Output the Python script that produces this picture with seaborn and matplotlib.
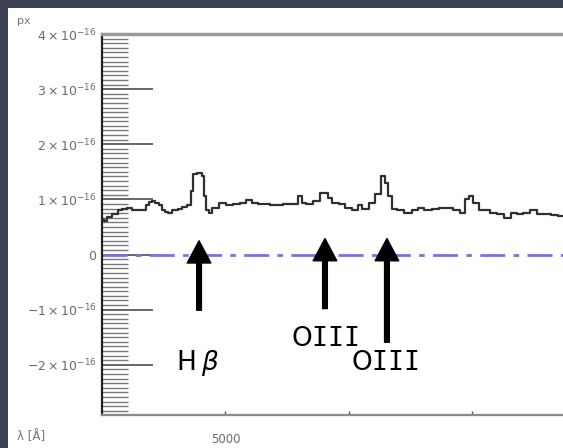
import matplotlib
matplotlib.use("Agg")
import matplotlib.pyplot as plt
from matplotlib.patches import Rectangle
from matplotlib.ticker import MultipleLocator, FixedLocator, FixedFormatter
import pandas as pd
import seaborn as sns

# ---------------- data ----------------
wavelength = [4504, 4512, 4532, 4553, 4573, 4593, 4613, 4634, 4654, 4674,
              4686, 4694, 4707, 4723, 4735, 4747, 4763, 4775, 4796, 4816,
              4836, 4856, 4864, 4876, 4897, 4909, 4917, 4929, 4937, 4958,
              4990, 5018, 5047, 5071, 5099, 5120, 5140, 5168, 5193, 5221,
              5249, 5282, 5302, 5314, 5342, 5371, 5391, 5411, 5423, 5444,
              5472, 5496, 5525, 5545, 5565, 5594, 5618, 5638, 5654, 5666,
              5679, 5707, 5739, 5768, 5788, 5820, 5849, 5877, 5909, 5938,
              5962, 5982, 5994, 6015, 6035, 6055, 6084, 6112, 6144, 6165,
              6193, 6217, 6246, 6274, 6298, 6335, 6359, 6390]
# flux in units of 1e-16
flux = [0.65, 0.61, 0.69, 0.74, 0.80, 0.83, 0.85, 0.81, 0.80, 0.81,
        0.89, 0.96, 0.98, 0.94, 0.89, 0.80, 0.78, 0.76, 0.80, 0.83,
        0.87, 0.90, 1.16, 1.46, 1.48, 1.43, 1.07, 0.80, 0.76, 0.85,
        0.94, 0.89, 0.92, 0.94, 0.99, 0.94, 0.92, 0.92, 0.89, 0.90,
        0.92, 0.92, 1.07, 0.94, 0.92, 0.98, 1.12, 1.12, 1.03, 0.94,
        0.92, 0.85, 0.81, 0.89, 0.83, 0.94, 1.10, 1.43, 1.30, 1.07,
        0.83, 0.81, 0.76, 0.80, 0.85, 0.81, 0.83, 0.85, 0.85, 0.81,
        0.76, 1.01, 1.07, 0.94, 0.80, 0.80, 0.76, 0.74, 0.67, 0.76,
        0.74, 0.76, 0.80, 0.74, 0.74, 0.72, 0.70, 0.70]

y_ticks = [-2, -1, 0, 1, 2, 3, 4]
y_tick_labels = [r"$-2\times10^{-16}$", r"$-1\times10^{-16}$", "0",
                 r"$1\times10^{-16}$", r"$2\times10^{-16}$",
                 r"$3\times10^{-16}$", r"$4\times10^{-16}$"]
x_ticks = [5000, 5500, 6000]
x_tick_labels = ["5000", "", ""]

line_names = ["H\u2009$\\beta$", "O$\\mathtt{III}$", "O$\\mathtt{III}$"]
arrow_x = [4893, 5403, 5654]
arrow_tip = [0.25, 0.29, 0.29]
arrow_tail = [-1.01, -0.98, -1.59]
label_x = [4889, 5403, 5646]
label_y = [-1.97, -1.54, -1.97]

# ---------------- figure ----------------
sns.set_style("white")
plt.rcParams["font.family"] = ["DejaVu Sans"]
plt.rcParams["mathtext.fontset"] = "dejavusans"

W, H = 563, 448
fig = plt.figure(figsize=(W / 100, H / 100), dpi=100)
fig.patch.set_facecolor("#3e4353")
fig.patches.append(Rectangle((8 / W, 0), 1, 440 / H, transform=fig.transFigure,
                             facecolor="white", edgecolor="none", zorder=-5))

left, right, top, bottom = 102, 572, 34, 415
ax = fig.add_axes([left / W, 1 - bottom / H, (right - left) / W, (bottom - top) / H])
ax.set_zorder(1)
ax.set_facecolor("white")

df = pd.DataFrame({"wavelength": wavelength, "flux": flux})
sns.lineplot(data=df, x="wavelength", y="flux", ax=ax, color="#303030",
             linewidth=1.6, drawstyle="steps-mid", estimator=None, zorder=3)

ax.axhline(0, color="#7474e4", linewidth=2.0, linestyle=(0, (9, 3, 2, 3)), zorder=2)

ax.set_xlim(4500, 4500 + (right - left) * 4.05)
ax.set_ylim(-2.91, 4.0)

ax.yaxis.set_major_locator(FixedLocator(y_ticks))
ax.yaxis.set_major_formatter(FixedFormatter(y_tick_labels))
ax.yaxis.set_minor_locator(MultipleLocator(1 / 12))
ax.xaxis.set_major_locator(FixedLocator(x_ticks))
ax.xaxis.set_major_formatter(FixedFormatter(x_tick_labels))

ax.tick_params(axis="y", which="major", direction="in", length=37, width=1.4,
               color="#666666", labelsize=9, labelcolor="#6a6a6a", pad=4, left=True)
ax.tick_params(axis="y", which="minor", direction="in", length=18.5, width=1.0,
               color="#7a7a7a", left=True)
ax.tick_params(axis="x", which="major", direction="in", length=3, width=1.0,
               color="#555555", labelsize=8.5, labelcolor="#6a6a6a", pad=13, bottom=True)

ax.set_xlabel("")
ax.set_ylabel("")

for side in ["left", "top", "bottom", "right"]:
    ax.spines[side].set_visible(True)
ax.spines["left"].set_color("#222222")
ax.spines["left"].set_linewidth(1.6)
ax.spines["top"].set_color("#9a9a9a")
ax.spines["top"].set_linewidth(2.5)
ax.spines["bottom"].set_color("#8a8a8a")
ax.spines["bottom"].set_linewidth(1.6)
ax.spines["right"].set_visible(False)

for x, tip, tail in zip(arrow_x, arrow_tip, arrow_tail):
    ax.annotate("", xy=(x, tip), xytext=(x, tail),
                arrowprops=dict(arrowstyle="simple,head_width=1.7,head_length=1.6,tail_width=0.34",
                                mutation_scale=10, color="black", shrinkA=0, shrinkB=0),
                zorder=5)

for name, x, y in zip(line_names, label_x, label_y):
    ax.text(x, y, name, ha="center", va="center", fontsize=19, color="black", zorder=5)

fig.text(17 / W, 1 - 21 / H, "px", ha="left", va="center", fontsize=8, color="#777777")
fig.text(17 / W, 1 - 437 / H, "λ [Å]", ha="left", va="center", fontsize=8.5, color="#777777")

fig.savefig("out.png", dpi=100, facecolor=fig.get_facecolor())
